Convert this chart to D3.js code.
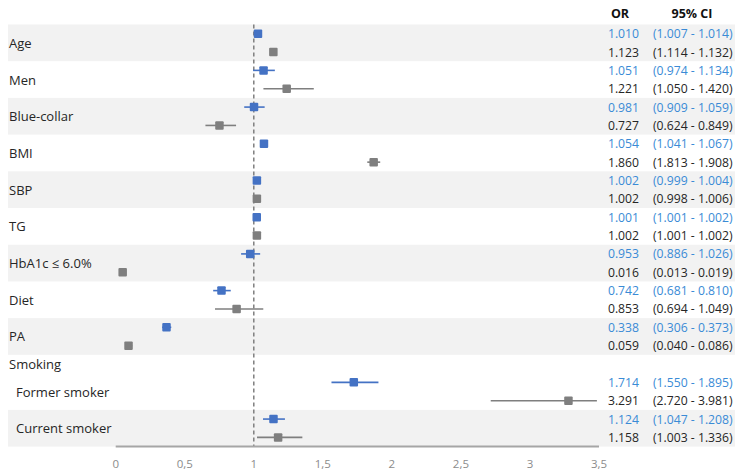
<!DOCTYPE html>
<html>
<head>
<meta charset="utf-8">
<script src="https://cdn.jsdelivr.net/npm/d3@7"></script>
<style>
  html, body { margin: 0; padding: 0; background: #fff; }
  svg { display: block; }
</style>
</head>
<body>
<svg id="chart" width="741" height="475"></svg>
<script>
// ---------- DATA ----------
const labels = ["Age", "Men", "Blue-collar", "BMI", "SBP", "TG", "HbA1c \u2264 6.0%", "Diet", "PA", "Smoking", "Former smoker", "Current smoker"];
const headerLabels = ["Smoking"];           // group header rows (no values)
const subLabels = ["Former smoker", "Current smoker"]; // indented rows

const blueOR = [1.010, 1.051, 0.981, 1.054, 1.002, 1.001, 0.953, 0.742, 0.338, null, 1.714, 1.124];
const blueLo = [1.007, 0.974, 0.909, 1.041, 0.999, 1.001, 0.886, 0.681, 0.306, null, 1.550, 1.047];
const blueHi = [1.014, 1.134, 1.059, 1.067, 1.004, 1.002, 1.026, 0.810, 0.373, null, 1.895, 1.208];

const grayOR = [1.123, 1.221, 0.727, 1.860, 1.002, 1.002, 0.016, 0.853, 0.059, null, 3.291, 1.158];
const grayLo = [1.114, 1.050, 0.624, 1.813, 0.998, 1.001, 0.013, 0.694, 0.040, null, 2.720, 1.003];
const grayHi = [1.132, 1.420, 0.849, 1.908, 1.006, 1.002, 0.019, 1.049, 0.086, null, 3.981, 1.336];

const tickValues = [0, 0.5, 1, 1.5, 2, 2.5, 3, 3.5];
const tickLabels = ["0", "0,5", "1", "1,5", "2", "2,5", "3", "3,5"];
const refValue = 1;
const colHeaders = ["OR", "95% CI"];

// ---------- STYLE ----------
const blue = "#4472C4", grey = "#7f7f7f";
const blueText = "#3a8bd6", darkText = "#262626";
const bandFill = "#f2f2f2";
const font = "'Open Sans', 'Liberation Sans', sans-serif";

// ---------- LAYOUT ----------
const svg = d3.select("#chart");
const fmt = d3.format(".3f");

// build slot layout: header rows take 1 half-slot, items take 2
const rows = [];
let slot = 0, itemIdx = 0;
labels.forEach((lab, i) => {
  const isHeader = headerLabels.includes(lab);
  const n = isHeader ? 1 : 2;
  rows.push({ i, lab, isHeader, isSub: subLabels.includes(lab), start: slot, n, item: isHeader ? -1 : itemIdx });
  if (!isHeader) itemIdx++;
  slot += n;
});
const totalSlots = slot;

const y = d3.scaleLinear().domain([0, totalSlots]).range([24.5, 446.6]);
const xData = d3.scaleLinear().domain([0, 3.5]).range([120.5, 596.9]);
const xAxis = d3.scaleLinear().domain([0, 3.5]).range([115.7, 599]);

// bands
svg.append("g").selectAll("rect")
  .data(rows.filter(r => !r.isHeader && r.item % 2 === 0))
  .join("rect")
  .attr("x", 8).attr("width", 727)
  .attr("y", r => y(r.start)).attr("height", r => y(r.start + r.n) - y(r.start))
  .attr("fill", bandFill);

// reference dashed line
svg.append("line")
  .attr("x1", xAxis(refValue)).attr("x2", xAxis(refValue))
  .attr("y1", y(0)).attr("y2", y(totalSlots))
  .attr("stroke", grey).attr("stroke-width", 1.5)
  .attr("stroke-dasharray", "4,3");

// axis line
svg.append("line")
  .attr("x1", xAxis(0)).attr("x2", xAxis(3.5))
  .attr("y1", y(totalSlots)).attr("y2", y(totalSlots))
  .attr("stroke", "#a6a6a6").attr("stroke-width", 2);

// tick labels
svg.append("g").selectAll("text")
  .data(tickValues)
  .join("text")
  .attr("x", d => xAxis(d)).attr("y", 463)
  .attr("text-anchor", "middle").attr("dominant-baseline", "central")
  .attr("font-family", font).attr("font-size", 11.5).attr("fill", "#8c8c8c")
  .text((d, i) => tickLabels[i]);

// row labels
svg.append("g").selectAll("text")
  .data(rows)
  .join("text")
  .attr("x", r => r.isSub ? 16 : 9)
  .attr("y", r => y(r.start + r.n / 2))
  .attr("dominant-baseline", "central")
  .attr("font-family", font).attr("font-size", 13).attr("fill", darkText)
  .text(r => r.lab);

// series
const series = [
  { or: blueOR, lo: blueLo, hi: blueHi, color: blue, text: blueText, off: 0 },
  { or: grayOR, lo: grayLo, hi: grayHi, color: grey, text: darkText, off: 1 }
];
const clamp = v => Math.max(0, Math.min(3.5, v));
const sq = 8.5;

series.forEach(s => {
  const data = rows.filter(r => !r.isHeader && s.or[r.i] != null);
  const g = svg.append("g");
  const yc = r => y(r.start + s.off + 0.5);
  g.selectAll("line").data(data).join("line")
    .attr("x1", r => xData(clamp(s.lo[r.i]))).attr("x2", r => xData(clamp(s.hi[r.i])))
    .attr("y1", yc).attr("y2", yc)
    .attr("stroke", s.color).attr("stroke-width", 1.6);
  g.selectAll("rect").data(data).join("rect")
    .attr("x", r => xData(s.or[r.i]) - sq / 2).attr("y", r => yc(r) - sq / 2)
    .attr("width", sq).attr("height", sq).attr("rx", 1)
    .attr("fill", s.color);
  // table
  const t = svg.append("g").attr("font-family", font).attr("font-size", 12.2).attr("fill", s.text);
  t.selectAll("text.or").data(data).join("text").attr("class", "or")
    .attr("x", 639).attr("y", yc).attr("text-anchor", "end").attr("dominant-baseline", "central")
    .text(r => fmt(s.or[r.i]));
  t.selectAll("text.ci").data(data).join("text").attr("class", "ci")
    .attr("x", 653).attr("y", yc).attr("dominant-baseline", "central")
    .text(r => "(" + fmt(s.lo[r.i]) + " - " + fmt(s.hi[r.i]) + ")");
});

// column headers
svg.append("g").selectAll("text")
  .data(colHeaders)
  .join("text")
  .attr("x", (d, i) => i === 0 ? 620 : 692).attr("y", 13)
  .attr("text-anchor", "middle").attr("dominant-baseline", "central")
  .attr("font-family", font).attr("font-size", 12.5).attr("font-weight", "bold").attr("fill", "#111")
  .text(d => d);
</script>
</body>
</html>
